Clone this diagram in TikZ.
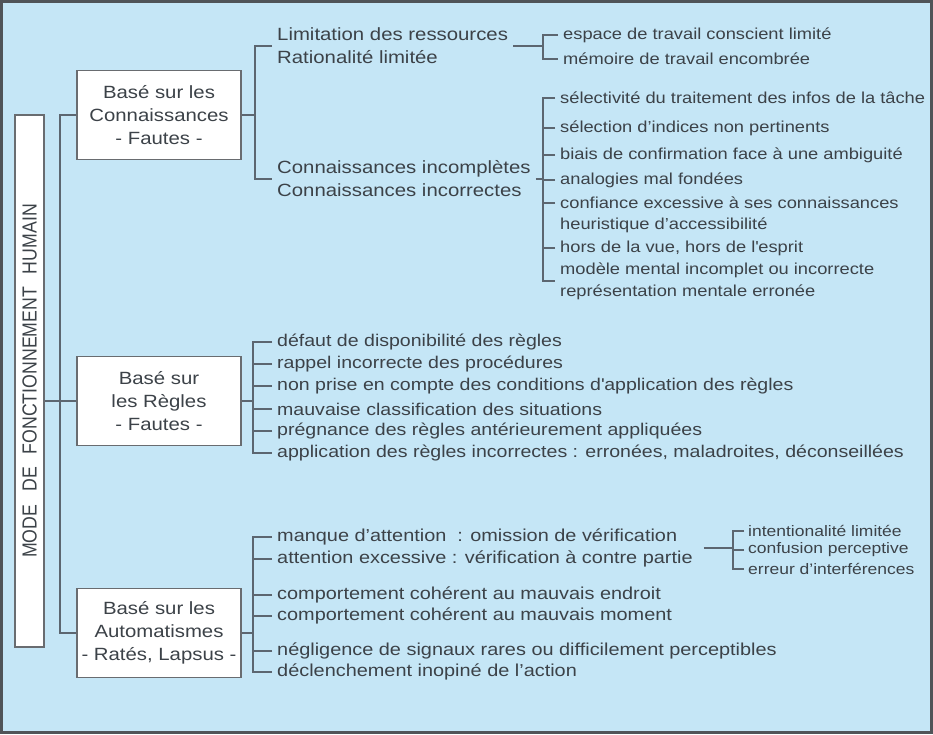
\documentclass[tikz,border=0pt]{standalone}
\usepackage{fontspec}
\setmainfont{Liberation Sans}[FakeStretch=1.15]
\newfontfamily\uprightsans{Liberation Sans}
\usepackage{tikz}
\usetikzlibrary{calc}

\definecolor{bgblue}{RGB}{197,230,246}
\definecolor{ink}{RGB}{60,66,72}
\definecolor{wire}{RGB}{92,102,112}
\definecolor{boxline}{RGB}{105,108,112}
\definecolor{frame}{RGB}{80,84,88}

\begin{document}
\begin{tikzpicture}[x=1pt, y=-1pt,
  mainbox/.style={draw=boxline, fill=white, line width=1.3, text=ink, inner sep=0,
    minimum width=164, minimum height=89, align=center,
    font=\fontsize{17.7}{23}\selectfont},
  item/.style={anchor=west, text=ink, inner xsep=5, inner ysep=0, align=left,
    font=\fontsize{17.7}{23}\selectfont},
  ruleitem/.style={item, font=\fontsize{17}{23}\selectfont},
  autoitem/.style={item, font=\fontsize{17.3}{23}\selectfont},
  smallitem/.style={item, font=\fontsize{15.9}{24}\selectfont},
  tinyitem/.style={item, inner xsep=4, font=\fontsize{15.2}{18.5}\selectfont},
  link/.style={draw=wire, line width=1.3}]
\useasboundingbox (0,0) rectangle (933,734);
\fill[bgblue] (0,0) rectangle (933,734);
\draw[frame, line width=2.5] (1.5,1.5) rectangle (931.5,732.5);

\node[draw=boxline, fill=white, line width=1.3, text=ink, rotate=90, inner sep=0,
  minimum width=532, minimum height=29] (mode) at (29.5,381)
  {\scalebox{1}[1.15]{\uprightsans\fontsize{17.7}{20}\selectfont MODE\hspace{13pt}DE\hspace{13pt}FONCTIONNEMENT\hspace{13pt}HUMAIN}};

\node[mainbox] (k1) at (159,115) {Basé sur les\\Connaissances\\- Fautes -};
\node[mainbox] (k2) at (159,401) {Basé sur\\les Règles\\- Fautes -};
\node[mainbox] (k3) at (159,633) {Basé sur les\\Automatismes\\- Ratés, Lapsus -};

\coordinate (tr) at (60,0);
\draw[link] (k1.west) -- (k1.west -| tr) -- (k3.west -| tr) -- (k3.west);
\draw[link] (k2.west -| mode.south) -- (k2.west);

% connaissances
\node[item] (c1) at (272,46) {Limitation des ressources\\Rationalité limitée};
\node[item] (c2) at (272,179) {Connaissances incomplètes\\Connaissances incorrectes};
\coordinate (bk) at (255,115);
\draw[link] (k1.east) -- (bk);
\draw[link] (c1.west) -- (c1.west -| bk) -- (c2.west -| bk) -- (c2.west);

\node[smallitem] (e1) at (558,35) {espace de travail conscient limité};
\node[smallitem] (e2) at (558,59) {mémoire de travail encombrée};
\coordinate (bL) at (543,46);
\draw[link] (c1.east) -- (bL);
\draw[link] (e1.west) -- (e1.west -| bL) -- (e2.west -| bL) -- (e2.west);

\node[smallitem] (s1) at (555,98) {sélectivité du traitement des infos de la tâche};
\node[smallitem] (s2) at (555,128) {sélection d’indices non pertinents};
\node[smallitem] (s3) at (555,155) {biais de confirmation face à une ambiguité};
\node[smallitem] (s4) at (555,180) {analogies mal fondées};
\node[smallitem] (s5) at (555,203) {confiance excessive à ses connaissances};
\node[smallitem] (s6) at (555,225) {heuristique d’accessibilité};
\node[smallitem] (s7) at (555,248) {hors de la vue, hors de l\textquotesingle esprit};
\node[smallitem] (s8) at (555,270) {modèle mental incomplet ou incorrecte};
\node[smallitem] (s9) at (555,292) {représentation mentale erronée};
\coordinate (bC) at (543,179);
\coordinate (sEnd) at (543,281);
\draw[link] (c2.east) -- (bC);
\draw[link] (s1.west) -- (s1.west -| bC) -- (sEnd) -- (sEnd -| s1.west);
\foreach \i in {2,3,4,5,7}
  \draw[link] (s\i.west) -- (s\i.west -| bC);

% regles
\coordinate (bR) at (253,401);
\node[ruleitem] (r1) at (272,342) {défaut de disponibilité des règles};
\node[ruleitem] (r2) at (272,364) {rappel incorrecte des procédures};
\node[ruleitem] (r3) at (272,386) {non prise en compte des conditions d\textquotesingle application des règles};
\node[ruleitem] (r4) at (272,409) {mauvaise classification des situations};
\node[ruleitem] (r5) at (272,431) {prégnance des règles antérieurement appliquées};
\node[ruleitem] (r6) at (272,453) {application des règles incorrectes : erronées, maladroites, déconseillées};
\draw[link] (k2.east) -- (bR);
\draw[link] (r1.west) -- (r1.west -| bR) -- (r6.west -| bR) -- (r6.west);
\foreach \i in {2,...,5}
  \draw[link] (r\i.west) -- (r\i.west -| bR);

% automatismes
\coordinate (bA) at (253,633);
\node[autoitem] (a1) at (272,537) {manque d’attention~ : omission de vérification};
\node[autoitem] (a2) at (272,559) {attention excessive : vérification à contre partie};
\node[autoitem] (a3) at (272,595) {comportement cohérent au mauvais endroit};
\node[autoitem] (a4) at (272,616) {comportement cohérent au mauvais moment};
\node[autoitem] (a5) at (272,651) {négligence de signaux rares ou difficilement perceptibles};
\node[autoitem] (a6) at (272,672) {déclenchement inopiné de l’action};
\draw[link] (k3.east) -- (bA);
\draw[link] (a1.west) -- (a1.west -| bA) -- (a6.west -| bA) -- (a6.west);
\foreach \i in {2,...,5}
  \draw[link] (a\i.west) -- (a\i.west -| bA);

\coordinate (bI) at (733,548);
\coordinate (aj) at ([xshift=6pt]a2.east |- bI);
\node[tinyitem] (t1) at (744,531) {intentionalité limitée};
\node[tinyitem] (t2) at (744,550) {confusion perceptive};
\node[tinyitem] (t3) at (744,569) {erreur d’interférences};
\draw[link] (aj) -- (bI);
\draw[link] (t1.west) -- (t1.west -| bI) -- (t3.west -| bI) -- (t3.west);
\draw[link] (t2.west) -- (t2.west -| bI);
\end{tikzpicture}
\end{document}
